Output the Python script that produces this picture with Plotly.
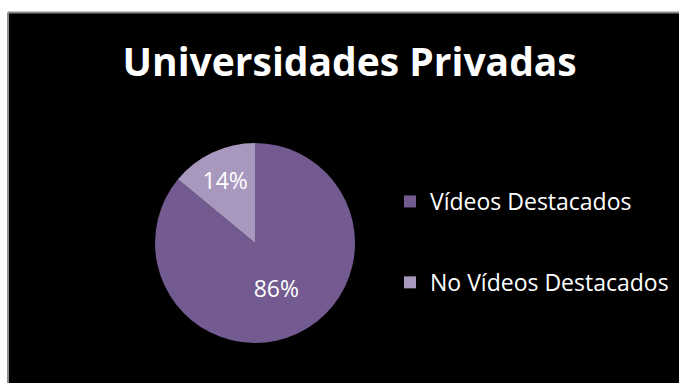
import plotly.graph_objects as go

# Chart data
categories = ["Vídeos Destacados", "No Vídeos Destacados"]
shares = [86, 14]
slice_colors = ["#735A91", "#A898BE"]
title_text = "Universidades Privadas"

W, H = 679, 383
FONT = "Open Sans"

fig = go.Figure()

# Pie: starts at 12 o'clock, clockwise, labels inside as percentages
fig.add_trace(go.Pie(
    labels=categories,
    values=shares,
    sort=False,
    direction="clockwise",
    rotation=0,
    marker=dict(colors=slice_colors, line=dict(width=0)),
    texttemplate="%{value}%",
    textposition="inside",
    insidetextorientation="horizontal",
    textfont=dict(family=FONT, size=23, color="white"),
    domain=dict(x=[0.2283, 0.5229], y=[0.1044, 0.6266]),
    showlegend=False,
    hoverinfo="label+percent",
))

# Legend entries (square swatches) as separate groups so their spacing can be set
for i, (name, col) in enumerate(zip(categories, slice_colors)):
    fig.add_trace(go.Scatter(
        x=[None], y=[None], mode="markers", name=name,
        legendgroup=f"g{i}",
        marker=dict(symbol="square", size=15, color=col),
    ))

frame_top = 1 - 12.5 / H
frame_left = 8 / W

fig.update_layout(
    width=W, height=H,
    margin=dict(l=0, r=0, t=0, b=0),
    paper_bgcolor="black",
    plot_bgcolor="rgba(0,0,0,0)",
    xaxis=dict(visible=False),
    yaxis=dict(visible=False),
    title=dict(
        text=f"<b>{title_text}</b>",
        x=0.515, xanchor="center",
        y=1 - 62 / H, yanchor="middle",
        font=dict(family=FONT, size=39, color="white"),
    ),
    legend=dict(
        x=390 / W, xanchor="left",
        y=1 - 180 / H, yanchor="top",
        bgcolor="rgba(0,0,0,0)",
        font=dict(family=FONT, size=23, color="white"),
        tracegroupgap=48,
        traceorder="grouped",
        itemsizing="constant",
    ),
    shapes=[
        # white margin above and left of the chart area
        dict(type="rect", xref="paper", yref="paper",
             x0=-0.2, x1=1.2, y0=frame_top, y1=1.2,
             fillcolor="white", line=dict(width=0), layer="below"),
        dict(type="rect", xref="paper", yref="paper",
             x0=-0.2, x1=frame_left, y0=-0.2, y1=1.2,
             fillcolor="white", line=dict(width=0), layer="below"),
        # grey frame, top and left edges
        dict(type="line", xref="paper", yref="paper",
             x0=frame_left, x1=1.2, y0=frame_top, y1=frame_top,
             line=dict(color="#8C8C8C", width=2), layer="below"),
        dict(type="line", xref="paper", yref="paper",
             x0=frame_left, x1=frame_left, y0=-0.2, y1=frame_top,
             line=dict(color="#8C8C8C", width=2), layer="below"),
    ],
)

fig.write_html(
    "out.html",
    config={"displayModeBar": False},
    post_script="document.body.style.margin='0';document.body.style.overflow='hidden';",
)
